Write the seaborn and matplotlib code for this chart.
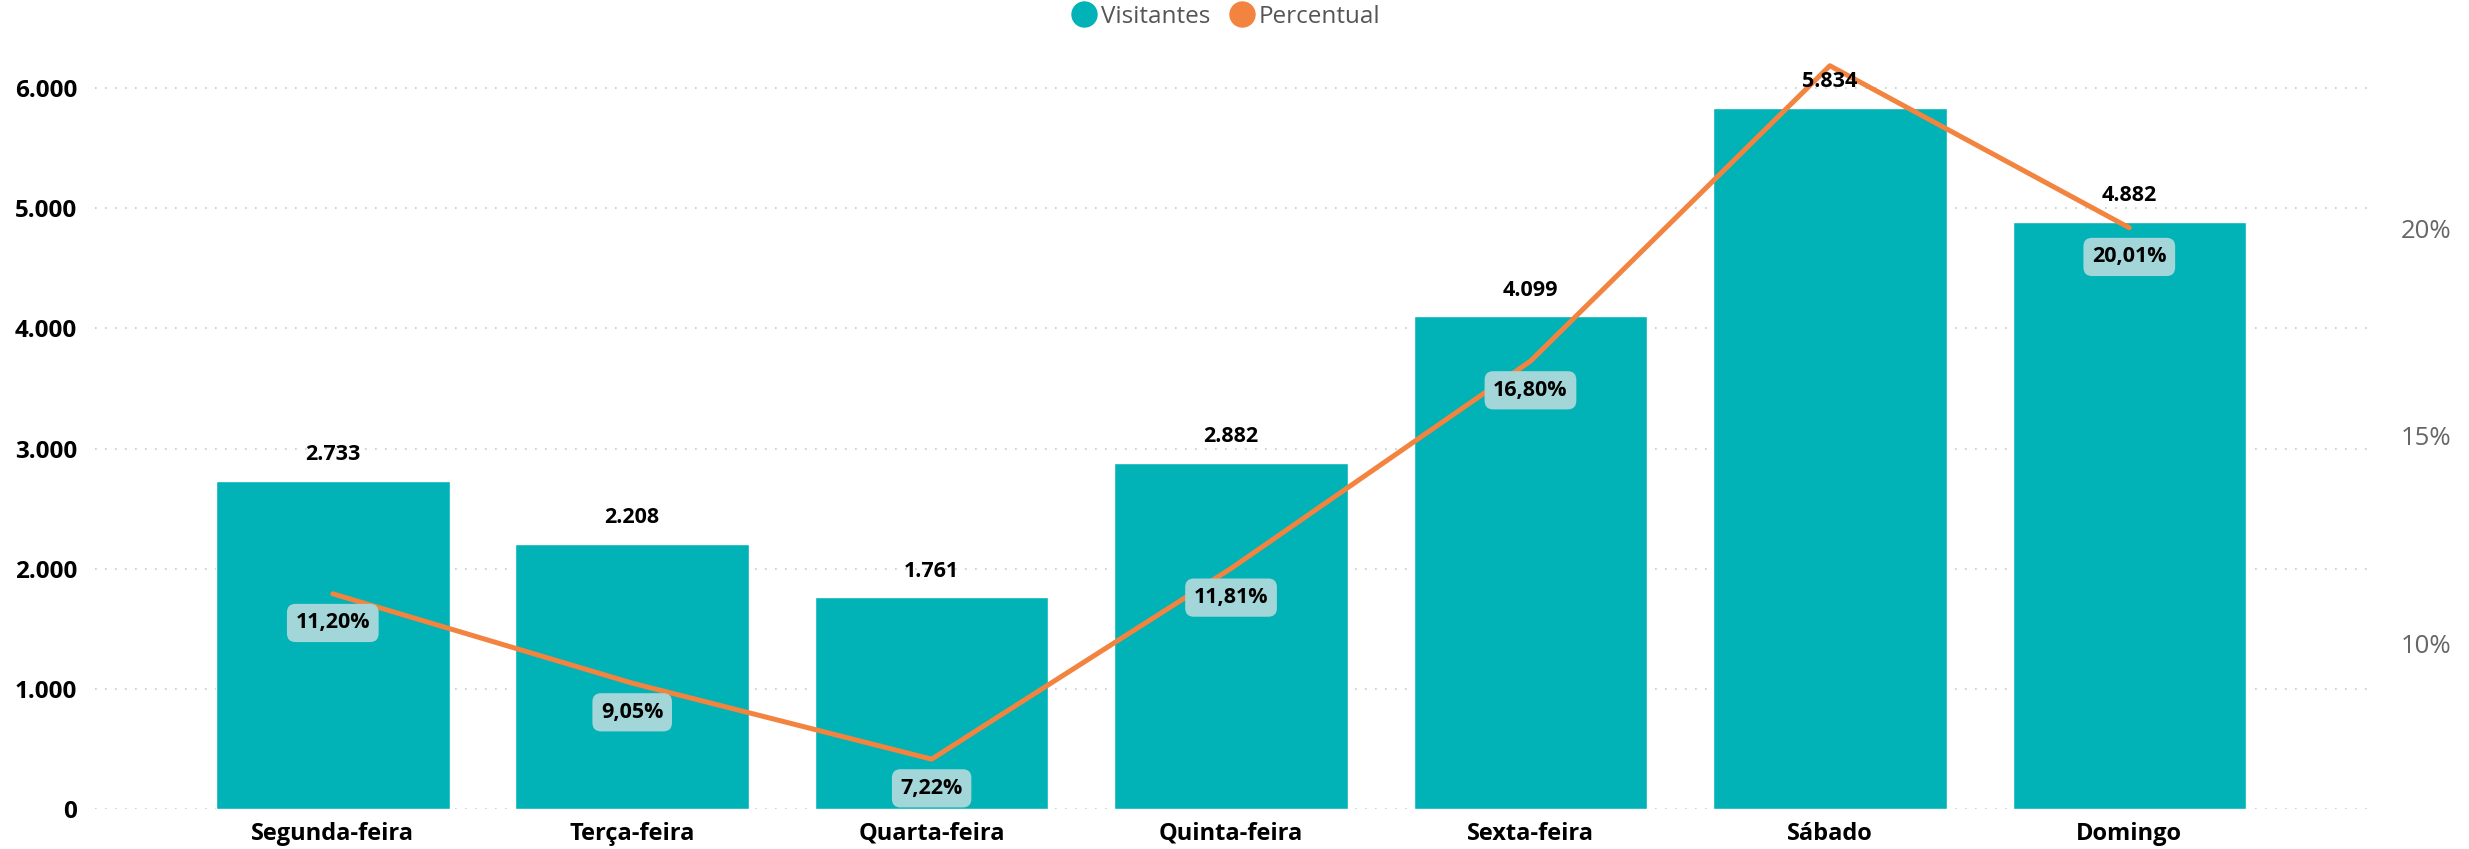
import numpy as np
import pandas as pd
import matplotlib.pyplot as plt
import matplotlib.ticker as mticker
from matplotlib.lines import Line2D
import seaborn as sns

# dados
dias = ['Segunda-feira', 'Terça-feira', 'Quarta-feira', 'Quinta-feira',
        'Sexta-feira', 'Sábado', 'Domingo']
visitantes = [2733, 2208, 1761, 2882, 4099, 5834, 4882]
percentual = [11.20, 9.05, 7.22, 11.81, 16.80, 23.91, 20.01]
mostrar_pct = [True, True, True, True, True, False, True]

COR_BARRA = '#01B2B6'
COR_LINHA = '#F2843F'
COR_CAIXA = '#A3D6D8'

sns.set_theme(style='white')
plt.rcParams['font.family'] = ['Open Sans', 'DejaVu Sans']

df = pd.DataFrame({'dia': dias, 'visitantes': visitantes, 'pct': percentual})

fig = plt.figure(figsize=(24.69, 8.49), dpi=100)
ax = fig.add_axes([0.0385, 0.0471, 0.9202, 0.8975])

sns.barplot(data=df, x='dia', y='visitantes', order=dias, color=COR_BARRA,
            saturation=1, width=0.78, ax=ax)
ax.set_xlim(-0.794, 6.794)
ax.set_ylim(0, 6341)
ax.set_xlabel('')
ax.set_ylabel('')
ax.yaxis.set_major_locator(mticker.MultipleLocator(1000))
ax.yaxis.set_major_formatter(mticker.FuncFormatter(lambda v, p: f'{int(v):,}'.replace(',', '.')))
ax.grid(axis='y', linestyle=(0, (1, 5)), color='#C8C8C8', linewidth=1.2)
ax.set_axisbelow(True)
for s in ax.spines.values():
    s.set_visible(False)
ax.tick_params(axis='x', length=0, labelsize=17, pad=9)
ax.tick_params(axis='y', length=0, labelsize=17.5, pad=13)
for lb in ax.get_xticklabels() + ax.get_yticklabels():
    lb.set_fontweight('bold')
    lb.set_color('black')

ax2 = ax.twinx()
sns.lineplot(x=np.arange(len(dias)), y=percentual, color=COR_LINHA, linewidth=3.6,
             ax=ax2, zorder=4)
ax2.set_ylim(6.02, 24.36)
ax2.set_xlim(-0.794, 6.794)
ax2.yaxis.set_major_locator(mticker.FixedLocator([10, 15, 20]))
ax2.yaxis.set_major_formatter(mticker.FuncFormatter(lambda v, p: f'{int(v)}%'))
ax2.tick_params(axis='y', length=0, labelsize=18.5, labelcolor='#666666', pad=24)
ax2.grid(False)
for s in ax2.spines.values():
    s.set_visible(False)

# rótulos das barras por cima da linha
for i, v in enumerate(visitantes):
    ax2.annotate(f'{v:,}'.replace(',', '.'), (i, v), xycoords=ax.transData,
                 xytext=(0, 19), textcoords='offset points', ha='center', va='center',
                 fontsize=15.5, fontweight='bold', color='black', zorder=6)

for i, (p, show) in enumerate(zip(percentual, mostrar_pct)):
    if not show:
        continue
    ax2.annotate(f'{p:.2f}%'.replace('.', ','), (i, p), xytext=(0, -21),
                 textcoords='offset points', ha='center', va='center',
                 fontsize=15.5, fontweight='bold', color='black', zorder=6,
                 bbox=dict(boxstyle='round,pad=0.4,rounding_size=0.4',
                           fc=COR_CAIXA, ec='none'))

handles = [Line2D([], [], marker='o', linestyle='', markersize=18, color=COR_BARRA),
           Line2D([], [], marker='o', linestyle='', markersize=18, color=COR_LINHA)]
fig.legend(handles, ['Visitantes', 'Percentual'], loc='center', ncol=2,
           bbox_to_anchor=(0.494, 0.98), frameon=False, fontsize=17.5,
           labelcolor='#555555', handletextpad=-0.3, columnspacing=0.3)

fig.savefig('out.png', dpi=100)
